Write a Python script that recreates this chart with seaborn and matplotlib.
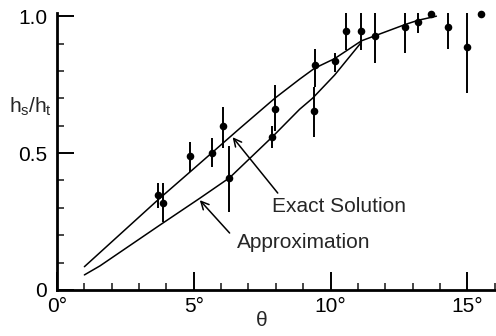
import matplotlib
matplotlib.use('Agg')
from matplotlib import pyplot as plt
from matplotlib.ticker import MultipleLocator
import seaborn as sb
import pandas as pd

# measured points (theta in degrees, h_s/h_t with error bar ends)
theta = [3.69, 3.87, 4.85, 5.66, 6.06, 6.28, 7.85, 7.96, 9.38, 9.45,
         10.15, 10.55, 11.13, 11.64, 12.74, 13.2, 13.69, 14.3, 15.0, 15.5]
h_ratio = [0.347, 0.318, 0.489, 0.50, 0.60, 0.41, 0.56, 0.66, 0.655, 0.82,
           0.836, 0.945, 0.945, 0.927, 0.96, 0.978, 1.007, 0.96, 0.887, 1.007]
h_low = [0.30, 0.25, 0.43, 0.45, 0.52, 0.285, 0.52, 0.58, 0.56, 0.74,
         0.796, 0.875, 0.875, 0.83, 0.865, 0.94, 1.007, 0.88, 0.72, 1.007]
h_high = [0.39, 0.39, 0.54, 0.555, 0.668, 0.525, 0.60, 0.75, 0.74, 0.88,
          0.865, 1.01, 1.01, 1.01, 1.01, 1.01, 1.007, 1.01, 1.01, 1.007]

# curves
exact_theta = [1.0, 3.7, 4.85, 6.68, 7.96, 8.87, 9.42, 10.15, 11.13, 12.74, 13.2, 13.87]
exact_h = [0.085, 0.33, 0.43, 0.59, 0.70, 0.77, 0.81, 0.845, 0.91, 0.97, 0.985, 1.0]
approx_theta = [1.0, 1.57, 3.76, 5.22, 6.31, 7.88, 8.87, 9.34, 10.15, 11.13]
approx_h = [0.055, 0.088, 0.237, 0.335, 0.41, 0.56, 0.66, 0.70, 0.785, 0.905]

x_ticks = [0, 5, 10, 15]
x_tick_labels = ['0°', '5°', '10°', '15°']
y_ticks = [0, 0.5, 1.0]
y_tick_labels = ['0', '0.5', '1.0']

sb.set_theme(style='ticks')
plt.rcParams['font.family'] = ['Liberation Sans', 'DejaVu Sans']
plt.rcParams['mathtext.fontset'] = 'custom'
plt.rcParams['mathtext.rm'] = 'Liberation Sans'
plt.rcParams['mathtext.it'] = 'Liberation Sans'

fig = plt.figure(figsize=(4.96, 3.36), dpi=100)
ax = fig.add_axes([0.115, 0.137, 0.885, 0.823])

pts = pd.DataFrame({'theta': theta, 'h': h_ratio})
ax.vlines(theta, h_low, h_high, color='black', linewidth=1.4)
sb.scatterplot(data=pts, x='theta', y='h', ax=ax, color='black', s=30,
               edgecolor='black', linewidth=0, zorder=3, clip_on=False)
sb.lineplot(x=exact_theta, y=exact_h, ax=ax, color='black', linewidth=1.1,
            estimator=None, sort=False)
sb.lineplot(x=approx_theta, y=approx_h, ax=ax, color='black', linewidth=1.1,
            estimator=None, sort=False)

ax.set_xlim(0, 16.05)
ax.set_ylim(0, 1.01)
ax.set_xticks(x_ticks)
ax.set_xticklabels(x_tick_labels)
ax.set_yticks(y_ticks)
ax.set_yticklabels(y_tick_labels)
ax.xaxis.set_minor_locator(MultipleLocator(1))
ax.yaxis.set_minor_locator(MultipleLocator(0.1))
ax.tick_params(axis='x', which='major', direction='in', length=13, width=1.4,
               pad=5, labelsize=15, colors='black')
ax.tick_params(axis='x', which='minor', direction='in', length=5, width=1.2)
ax.tick_params(axis='y', which='major', direction='in', length=12, width=1.4,
               pad=7, labelsize=15, colors='black')
ax.tick_params(axis='y', which='minor', direction='in', length=5, width=1.2)
for s in ['top', 'right']:
    ax.spines[s].set_visible(False)
for s in ['left', 'bottom']:
    ax.spines[s].set_linewidth(2.0)
    ax.spines[s].set_color('black')
ax.set_xlabel('')
ax.set_ylabel('')

ax.text(-0.18, 0.646, r'$h_s/h_t$', ha='right', va='baseline', fontsize=15, clip_on=False)
ax.text(7.48, -0.113, 'θ', ha='center', va='center', fontsize=15, clip_on=False)

ax.text(7.85, 0.285, 'Exact Solution', ha='left', va='baseline', fontsize=15)
ax.annotate('', xy=(6.42, 0.558), xytext=(8.07, 0.354),
            arrowprops=dict(arrowstyle='->', color='black', lw=1.1,
                            shrinkA=0, shrinkB=0, mutation_scale=14))
ax.text(6.57, 0.153, 'Approximation', ha='left', va='baseline', fontsize=15)
ax.annotate('', xy=(5.22, 0.328), xytext=(6.31, 0.208),
            arrowprops=dict(arrowstyle='->', color='black', lw=1.1,
                            shrinkA=0, shrinkB=0, mutation_scale=14))

fig.savefig('out.png', dpi=100)
